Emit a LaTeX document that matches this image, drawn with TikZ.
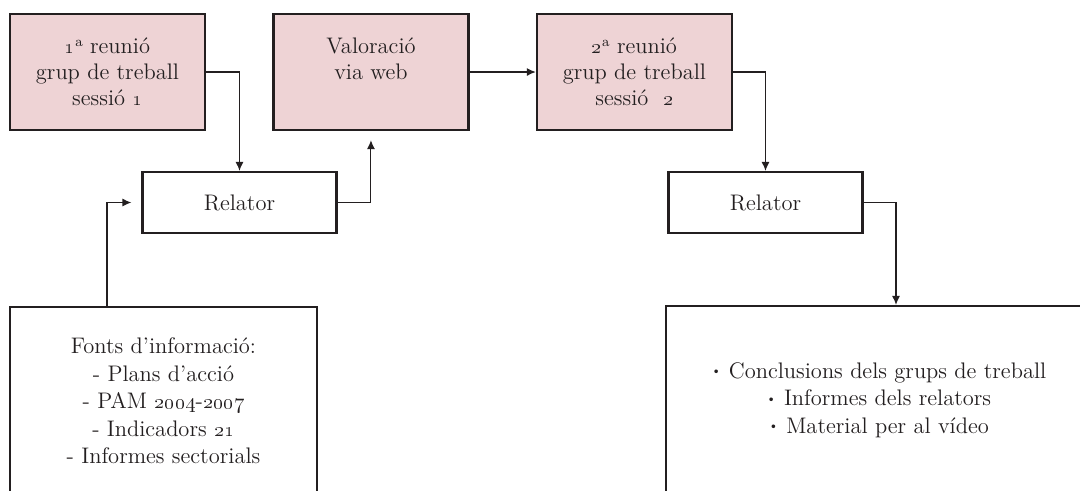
\documentclass[tikz,border=0pt]{standalone}
\usepackage{tikz}
\usetikzlibrary{arrows.meta,positioning}
\usepackage{xcolor}
\definecolor{rpink}{RGB}{238,211,213}
\definecolor{rdark}{RGB}{35,31,32}
\newcommand{\boxfont}{\fontsize{12.8}{14.8}\selectfont}
\newcommand{\listfont}{\fontsize{12.8}{15.6}\selectfont}
\newcommand{\dotitem}{\raisebox{0.35ex}{\scriptsize\textbullet}\ }
\newcommand{\ordinal}[1]{\oldstylenums{#1}\raisebox{0.7ex}{\footnotesize a}}
\tikzstyle{arrow} = [line width=0.6pt,-{Latex[length=5pt,width=4.5pt]},color=rdark]
\tikzstyle{meeting} = [rectangle, minimum width=3.9cm, minimum height=2.32cm, align=center, draw=rdark, fill=rpink, line width=1.4pt, font=\boxfont, text=rdark]
\tikzstyle{relator} = [rectangle, minimum width=3.88cm, minimum height=1.22cm, align=center, draw=rdark, fill=white, line width=1.4pt, font=\boxfont, text=rdark]
\tikzstyle{listbox} = [rectangle, minimum height=3.76cm, align=center, draw=rdark, fill=white, line width=1.4pt, font=\listfont, text=rdark]

\begin{document}
\begin{tikzpicture}
    \clip (0,0) rectangle (21.6,-9.8);
    \fill[white] (0,0) rectangle (21.6,-9.8);
    % Nodes
    \node[meeting] (reunio1) at (2.15,-1.44) {\ordinal{1} reunió\\grup de treball\\sessió \oldstylenums{1}};
    \node[meeting, right=1.32cm of reunio1] (valoracio) {Valoració\\via web\\\mbox{}};
    \node[meeting, right=1.32cm of valoracio] (reunio2) {\ordinal{2} reunió\\grup de treball\\sessió\ \ \oldstylenums{2}};
    \node[relator] (relator1) at (4.79,-4.05) {Relator};
    \node[relator] (relator2) at (15.31,-4.05) {Relator};
    \node[listbox, minimum width=6.14cm] (fonts) at (3.27,-8.02) {Fonts d’informació:\\- Plans d’acció\\- PAM \oldstylenums{2004}-\oldstylenums{2007}\\- Indicadors \oldstylenums{21}\\- Informes sectorials};
    \node[listbox, minimum width=8.5cm] (resultats) at (17.57,-8.0) {\dotitem Conclusions dels grups de treball\\\dotitem Informes dels relators\\\dotitem Material per al vídeo};

    % Arrows
    \draw[arrow] (reunio1.east) -| (relator1.north);
    \draw[arrow, shorten >=0.18cm] (relator1.east) -| (valoracio.south);
    \draw[arrow, shorten >=0.2cm] ([xshift=-1.13cm]fonts.north) |- (relator1.west);
    \draw[arrow] (valoracio.east) -- (reunio2.west);
    \draw[arrow] (reunio2.east) -| (relator2.north);
    \draw[arrow] (relator2.east) -| ([xshift=0.35cm]resultats.north);
\end{tikzpicture}
\end{document}
